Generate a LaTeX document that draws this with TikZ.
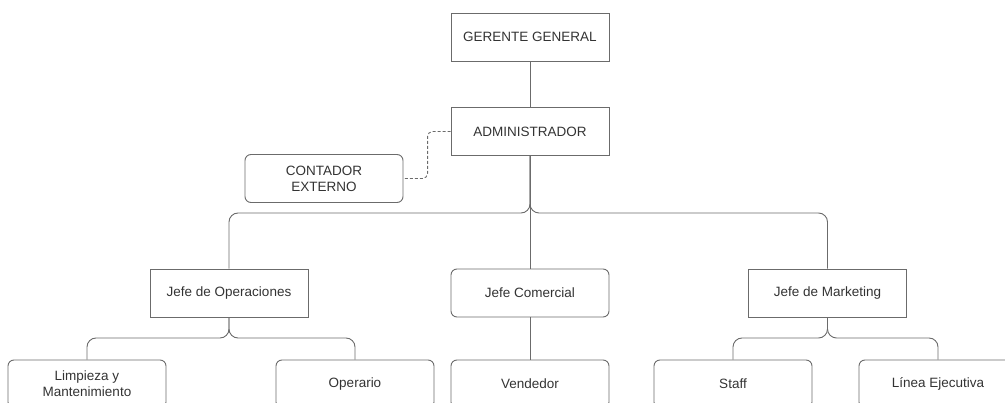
\documentclass[tikz,border=0pt]{standalone}
\usepackage{fontspec}
\setmainfont{Liberation Sans}
\usepackage{tikz}
\definecolor{lineagris}{HTML}{6B6B6B}
\definecolor{textogris}{HTML}{333333}

\begin{document}
\begin{tikzpicture}[x=1pt, y=-1pt,
    caja/.style={draw=lineagris, line width=0.9pt, minimum width=158pt, minimum height=48pt,
      inner sep=2pt, align=center, text=textogris, font=\fontsize{13.5}{16}\selectfont},
    cajaR/.style={caja, rounded corners=6pt},
    enlace/.style={draw=lineagris, line width=0.9pt, rounded corners=9pt},
    punteado/.style={enlace, dash pattern=on 3pt off 2pt, rounded corners=5pt}]
      % 1. marco de la figura (las cajas de abajo quedan cortadas)
      \useasboundingbox (0,0) rectangle (1005,403);
      \clip (0,0) rectangle (1005,403);

      % 2. gerencia y administracion
      \node[caja] (gerente) at (530,37) {GERENTE GENERAL};
      \node[caja] (admin) at (530,131.5) {ADMINISTRADOR};
      \node[cajaR] (contador) at (324,178.5) {CONTADOR\\EXTERNO};

      % 3. jefaturas
      \node[caja] (jefeop) at (229,293) {Jefe de Operaciones};
      \node[cajaR] (jefecom) at (530,293) {Jefe Comercial};
      \node[caja] (jefemkt) at (827.5,293) {Jefe de Marketing};

      % 4. personal
      \node[cajaR] (limpieza) at (87,384) {Limpieza y\\Mantenimiento};
      \node[cajaR] (operario) at (355,384) {Operario};
      \node[cajaR] (vendedor) at (530,384) {Vendedor};
      \node[cajaR] (staff) at (733,384) {Staff};
      \node[cajaR] (linea) at (938,384) {Línea Ejecutiva};

      % 5. alturas de las barras horizontales
      \coordinate (bus1) at (530,213);
      \coordinate (bus2) at (229,338);
      \coordinate (bus3) at (827,338);

      % 6. lineas de mando
      \draw[enlace] (gerente) -- (admin);
      \draw[punteado] (admin.west) -- ([xshift=-23pt]admin.west) |- (contador.east);
      \draw[enlace] (admin.south) -- (admin.south |- bus1) -| (jefeop.north);
      \draw[enlace] (admin.south) -- (admin.south |- bus1) -| (jefemkt.north);
      \draw[enlace] (admin) -- (jefecom);
      \draw[enlace] (jefeop.south) -- (jefeop.south |- bus2) -| (limpieza.north);
      \draw[enlace] (jefeop.south) -- (jefeop.south |- bus2) -| (operario.north);
      \draw[enlace] (jefecom) -- (vendedor);
      \draw[enlace] (jefemkt.south) -- (jefemkt.south |- bus3) -| (staff.north);
      \draw[enlace] (jefemkt.south) -- (jefemkt.south |- bus3) -| (linea.north);
    \end{tikzpicture}
\end{document}
